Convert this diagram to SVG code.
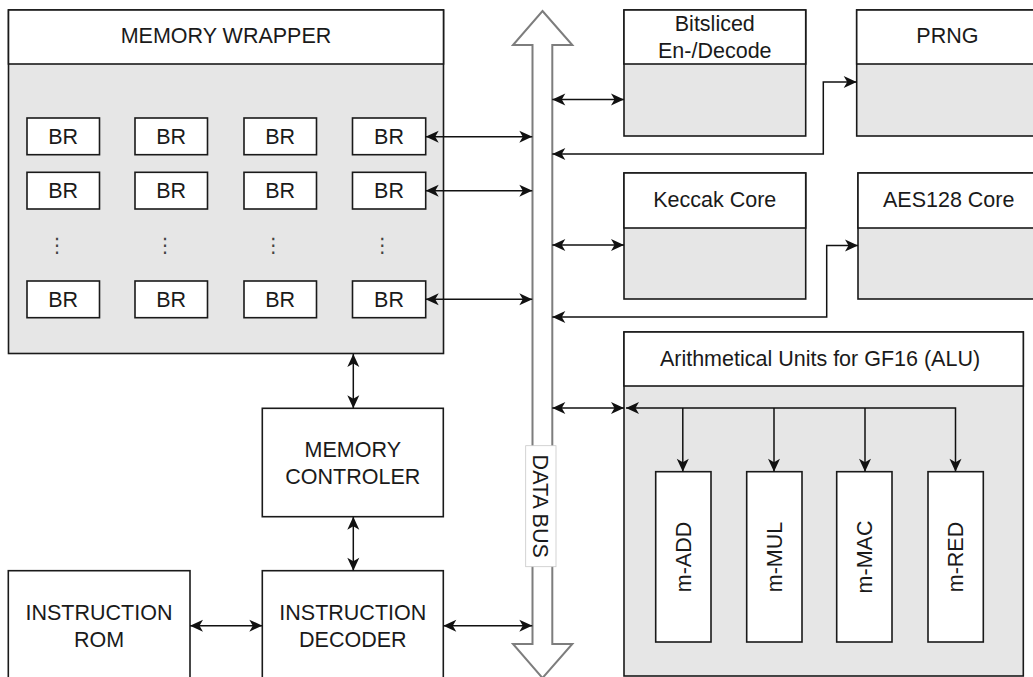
<svg xmlns="http://www.w3.org/2000/svg" width="1033" height="677" viewBox="0 0 1033 677">
<style>
.box{fill:#ffffff;stroke:#1a1a1a;stroke-width:1.6}
.body{fill:#e6e6e6;stroke:#1a1a1a;stroke-width:1.6}
.t{font-family:"Liberation Sans",Arial,Helvetica,sans-serif;font-size:21.5px;fill:#1a1a1a;text-anchor:middle}
.dots{font-family:"DejaVu Sans",sans-serif;font-size:20px;fill:#444;text-anchor:middle}
.c{fill:none;stroke:#111;stroke-width:1.5}
.both{marker-start:url(#ah);marker-end:url(#ah)}
.end{marker-end:url(#ah)}
.bus{fill:#ffffff;stroke:#7d7d7d;stroke-width:2}
</style>
<defs>
<marker id="ah" markerUnits="userSpaceOnUse" viewBox="-14 -7 14 14" refX="0" refY="0" markerWidth="14" markerHeight="14" orient="auto-start-reverse">
<path d="M0,0 L-13,-6 L-9.5,0 L-13,6 Z" fill="#111"/>
</marker>
</defs>
<rect width="1033" height="677" fill="#ffffff"/>

<g id="memory-wrapper">
<rect class="body" x="8.5" y="10" width="435" height="343.5"/>
<rect class="box" x="8.5" y="10" width="435" height="54"/>
<text class="t" x="226" y="43">MEMORY WRAPPER</text>
</g>
<g id="br-1-1"><rect class="box" x="27" y="118" width="72.5" height="36.7"/><text class="t" x="63.2" y="144">BR</text></g>
<g id="br-1-2"><rect class="box" x="135" y="118" width="72.5" height="36.7"/><text class="t" x="171.2" y="144">BR</text></g>
<g id="br-1-3"><rect class="box" x="244" y="118" width="72.5" height="36.7"/><text class="t" x="280.2" y="144">BR</text></g>
<g id="br-1-4"><rect class="box" x="352.5" y="118" width="73.2" height="36.7"/><text class="t" x="389" y="144">BR</text></g>
<g id="br-2-1"><rect class="box" x="27" y="172.3" width="72.5" height="36.7"/><text class="t" x="63.2" y="198.3">BR</text></g>
<g id="br-2-2"><rect class="box" x="135" y="172.3" width="72.5" height="36.7"/><text class="t" x="171.2" y="198.3">BR</text></g>
<g id="br-2-3"><rect class="box" x="244" y="172.3" width="72.5" height="36.7"/><text class="t" x="280.2" y="198.3">BR</text></g>
<g id="br-2-4"><rect class="box" x="352.5" y="172.3" width="73.2" height="36.7"/><text class="t" x="389" y="198.3">BR</text></g>
<g id="br-dots">
<text class="dots" x="57" y="252">⋮</text>
<text class="dots" x="165" y="252">⋮</text>
<text class="dots" x="273.3" y="252">⋮</text>
<text class="dots" x="382.3" y="252">⋮</text>
</g>
<g id="br-4-1"><rect class="box" x="27" y="281" width="72.5" height="36.7"/><text class="t" x="63.2" y="307">BR</text></g>
<g id="br-4-2"><rect class="box" x="135" y="281" width="72.5" height="36.7"/><text class="t" x="171.2" y="307">BR</text></g>
<g id="br-4-3"><rect class="box" x="244" y="281" width="72.5" height="36.7"/><text class="t" x="280.2" y="307">BR</text></g>
<g id="br-4-4"><rect class="box" x="352.5" y="281" width="73.2" height="36.7"/><text class="t" x="389" y="307">BR</text></g>

<g id="data-bus">
<polygon class="bus" points="542.5,11 572.3,45 552.3,45 552.3,644 572.3,644 542.5,678 513,644 532.5,644 532.5,45 513,45"/>
<rect x="525.7" y="445.7" width="30.3" height="121" fill="#ffffff" stroke="#c8c8c8" stroke-width="0.8"/>
<text class="t" transform="translate(541,506.2) rotate(90)" x="0" y="7.7">DATA BUS</text>
</g>

<g id="bitsliced">
<rect class="body" x="624" y="10" width="181.7" height="126"/>
<rect class="box" x="624" y="10" width="181.7" height="54"/>
<text class="t" x="714.8" y="31">Bitsliced</text>
<text class="t" x="714.8" y="58">En-/Decode</text>
</g>
<g id="prng">
<rect class="body" x="856.7" y="10" width="181.5" height="126"/>
<rect class="box" x="856.7" y="10" width="181.5" height="54"/>
<text class="t" x="947.4" y="43.3">PRNG</text>
</g>
<g id="keccak">
<rect class="body" x="624" y="173" width="181.7" height="126"/>
<rect class="box" x="624" y="173" width="181.7" height="55"/>
<text class="t" x="714.8" y="206.7">Keccak Core</text>
</g>
<g id="aes128">
<rect class="body" x="858" y="173" width="181.5" height="126"/>
<rect class="box" x="858" y="173" width="181.5" height="55"/>
<text class="t" x="948.7" y="206.7">AES128 Core</text>
</g>
<g id="alu">
<rect class="body" x="624" y="332" width="399.3" height="344"/>
<rect class="box" x="624" y="332" width="399.3" height="54"/>
<text class="t" x="820" y="366">Arithmetical Units for GF16 (ALU)</text>
</g>
<g id="m-add"><rect class="box" x="655.7" y="471.7" width="55.3" height="170.3"/><text class="t" transform="translate(683.3,557) rotate(-90)" x="0" y="7.7">m-ADD</text></g>
<g id="m-mul"><rect class="box" x="746.7" y="471.7" width="55.3" height="170.3"/><text class="t" transform="translate(774.3,557) rotate(-90)" x="0" y="7.7">m-MUL</text></g>
<g id="m-mac"><rect class="box" x="836.7" y="471.7" width="55.3" height="170.3"/><text class="t" transform="translate(864.3,557) rotate(-90)" x="0" y="7.7">m-MAC</text></g>
<g id="m-red"><rect class="box" x="928" y="471.7" width="55.3" height="170.3"/><text class="t" transform="translate(955.6,557) rotate(-90)" x="0" y="7.7">m-RED</text></g>

<g id="memory-controler">
<rect class="box" x="262.3" y="408.3" width="181" height="108.4"/>
<text class="t" x="352.8" y="456.5">MEMORY</text>
<text class="t" x="352.8" y="484">CONTROLER</text>
</g>
<g id="instruction-decoder">
<rect class="box" x="262.3" y="570.7" width="181" height="120"/>
<text class="t" x="352.8" y="620">INSTRUCTION</text>
<text class="t" x="352.8" y="646.7">DECODER</text>
</g>
<g id="instruction-rom">
<rect class="box" x="8.3" y="570.7" width="181.7" height="120"/>
<text class="t" x="99" y="620">INSTRUCTION</text>
<text class="t" x="99" y="646.7">ROM</text>
</g>

<g id="connectors">
<path class="c both" d="M425.7,136.7 H532.3"/>
<path class="c both" d="M425.7,190.7 H532.3"/>
<path class="c both" d="M425.7,299.3 H532.3"/>
<path class="c both" d="M552.3,99.5 H624"/>
<path class="c both" d="M552.3,154 H823.3 V82 H856.7"/>
<path class="c both" d="M552.3,245 H624"/>
<path class="c both" d="M552.3,317 H826.7 V245.6 H858"/>
<path class="c both" d="M552.3,408 H624"/>
<path class="c both" d="M353.3,354 V408.3"/>
<path class="c both" d="M353.3,516.7 V570.7"/>
<path class="c both" d="M190,625.7 H262.3"/>
<path class="c both" d="M443.3,625.7 H532.3"/>
<path class="c both" d="M626,408 H955.5 V471.7"/>
<path class="c end" d="M682.8,408 V471.7"/>
<path class="c end" d="M774,408 V471.7"/>
<path class="c end" d="M865,408 V471.7"/>
</g>
</svg>
